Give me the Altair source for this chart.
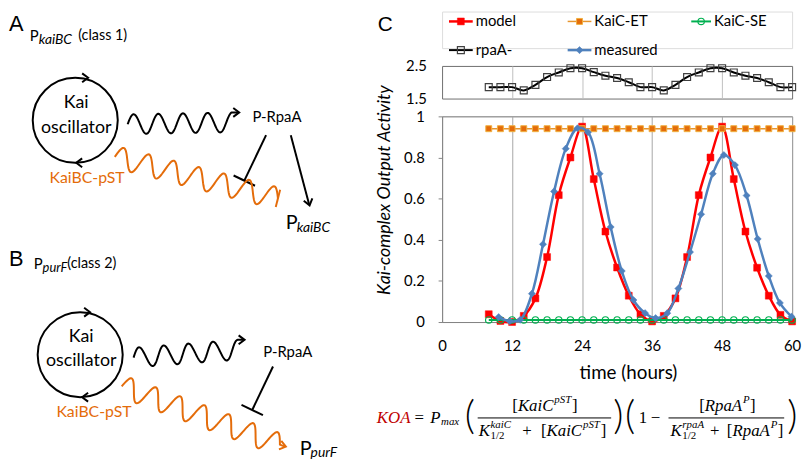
import altair as alt
import numpy as np
import pandas as pd

# ---------------- values ----------------
hours = [8, 10, 12, 14, 16, 18, 20, 22, 24, 26, 28, 30, 32, 34, 36, 38, 40, 42, 44, 46, 48, 50, 52, 54, 56, 58, 60]
model = [0.038, 0.005, 0.0, 0.03, 0.115, 0.316, 0.617, 0.80, 0.95, 0.695, 0.44, 0.265, 0.128, 0.038,
         0.003, 0.03, 0.115, 0.316, 0.617, 0.80, 0.95, 0.695, 0.44, 0.264, 0.128, 0.035, 0.003]
kaic_et = [0.94, 0.94, 0.94, 0.94, 0.94, 0.94, 0.94, 0.94, 0.94, 0.94, 0.94, 0.94, 0.94, 0.94,
           0.94, 0.94, 0.94, 0.94, 0.94, 0.94, 0.94, 0.94, 0.94, 0.94, 0.94, 0.94, 0.94]
kaic_se = [0.01, 0.01, 0.01, 0.01, 0.01, 0.01, 0.01, 0.01, 0.01, 0.01, 0.01, 0.01, 0.01, 0.01,
           0.01, 0.01, 0.01, 0.01, 0.01, 0.01, 0.01, 0.01, 0.01, 0.01, 0.01, 0.01, 0.01]
rpaa = [1.85, 1.85, 1.85, 1.75, 1.92, 2.16, 2.30, 2.43, 2.43, 2.31, 2.20, 2.13, 2.00, 1.85,
        1.85, 1.75, 1.92, 2.16, 2.30, 2.43, 2.43, 2.30, 2.20, 2.13, 2.00, 1.85, 1.85]
measured_hours = [9.7, 11.6, 13.4, 15.4, 17.3, 19.2, 21.2, 23.2, 25.0, 27.0, 28.9, 30.8, 32.8, 34.8,
                  36.6, 38.6, 40.5, 42.5, 44.4, 46.4, 48.3, 50.2, 52.2, 54.1, 56.0, 57.9, 59.9]
measured = [0.024, 0.004, 0.011, 0.138, 0.378, 0.635, 0.843, 0.942, 0.923, 0.721, 0.462, 0.248, 0.107, 0.043,
            0.019, 0.043, 0.163, 0.34, 0.524, 0.721, 0.812, 0.763, 0.615, 0.404, 0.224, 0.093, 0.026]
legend_names = ["model", "KaiC-ET", "KaiC-SE", "rpaA-", "measured"]
x_ticks = [0, 12, 24, 36, 48, 60]
grid_ticks = [12, 24, 36, 48]
y_ticks = [0, 0.2, 0.4, 0.6, 0.8, 1]
rpaa_ticks = [1.5, 2.5]

# ---------------- styles ----------------
STY = {
    "model":    dict(line="#FF0000", lw=2.5, shape="square", size=49, fill="#FF0000", stroke="#FF0000", sw=0.5),
    "KaiC-ET":  dict(line="#E8962E", lw=1.5, shape="square", size=36, fill="#E46C0A", stroke="#F0B040", sw=1),
    "KaiC-SE":  dict(line="#00B050", lw=2, shape="circle", size=42, fill="", stroke="#00B050", sw=1.2),
    "rpaA-":    dict(line="#000000", lw=2, shape="square", size=49, fill="", stroke="#404040", sw=1.2),
    "measured": dict(line="#4F81BD", lw=2.5, shape="diamond", size=52, fill="#4F81BD", stroke="#4F81BD", sw=0.5),
}
GRAY = "#868686"
BORDER = "#6E6E6E"
ORANGE = "#E46C0A"
FONT = "Lato"


def point_mark(st):
    kw = dict(shape=st["shape"], size=st["size"], stroke=st["stroke"], strokeWidth=st["sw"], opacity=1)
    if st["fill"]:
        kw.update(filled=True, fill=st["fill"])
    else:
        kw.update(filled=False)
    return kw


def series(df, name, xe, ye):
    st = STY[name]
    line = alt.Chart(df).mark_line(color=st["line"], strokeWidth=st["lw"],
                                   interpolate="catmull-rom").encode(x=xe, y=ye)
    pts = alt.Chart(df).mark_point(**point_mark(st)).encode(x=xe, y=ye)
    return [line, pts]


XSCALE = alt.Scale(domain=[0, 60], nice=False, zero=False)

# ---------------- main panel ----------------
x_main = alt.X("t:Q", scale=XSCALE, axis=alt.Axis(
    values=x_ticks, grid=True, gridColor="#A6A6A6", ticks=False, tickSize=0,
    domainColor=GRAY, labelFont=FONT, labelFontSize=15, labelColor="black", labelFlush=False,
    labelBaseline="middle", labelPadding=24,
    title="time (hours)", titleFont=FONT, titleFontSize=19, titleFontWeight="normal",
    titleColor="black", titleX=188, titleY=51, titleBaseline="middle"))
y_main = alt.Y("v:Q", scale=alt.Scale(domain=[0, 1], nice=False), axis=alt.Axis(
    values=y_ticks, format="~g", grid=False, ticks=True, tickSize=4, tickColor=GRAY,
    domainColor=GRAY, labelFont=FONT, labelFontSize=15, labelColor="black", labelAlign="right",
    labelPadding=14, title="Kai-complex Output Activity", titleFont=FONT, titleFontStyle="italic",
    titleFontSize=18, titleFontWeight="normal", titleColor="black", titleAngle=270,
    titleX=-58, titleY=74, titleBaseline="middle"))

df_model = pd.DataFrame({"t": hours, "v": model})
df_et = pd.DataFrame({"t": hours, "v": kaic_et})
df_se = pd.DataFrame({"t": hours, "v": kaic_se})
df_meas = pd.DataFrame({"t": measured_hours, "v": measured})
df_rpaa = pd.DataFrame({"t": hours, "v": rpaa})

main_layers = (series(df_model, "model", x_main, y_main)
               + series(df_et, "KaiC-ET", x_main, y_main)
               + series(df_se, "KaiC-SE", x_main, y_main)
               + series(df_meas, "measured", x_main, y_main))
main = alt.layer(*main_layers).properties(
    width=354, height=208, view=alt.ViewBackground(stroke=BORDER, strokeWidth=1))

# ---------------- rpaA- panel ----------------
x_r = alt.X("t:Q", scale=XSCALE, axis=alt.Axis(values=grid_ticks, grid=True, gridColor="#BFBFBF",
                                               labels=False, ticks=False, domain=False, title=""))
y_r = alt.Y("v:Q", scale=alt.Scale(domain=[1.5, 2.5], nice=False, zero=False), axis=alt.Axis(
    values=rpaa_ticks, grid=False, ticks=False, domain=False, labelFont=FONT, labelFontSize=15,
    labelColor="black", labelAlign="right", labelPadding=16, title=""))
rpaa_panel = alt.layer(*series(df_rpaa, "rpaA-", x_r, y_r)).properties(
    width=354, height=33, view=alt.ViewBackground(stroke=BORDER, strokeWidth=1))

# ---------------- annotation panel: page-pixel coordinates ----------------
# The panel covers page x 446..800, y 8..45; its scales are 1:1 with page pixels,
# so the legend, the formula and the schematic diagrams are placed in page coordinates.
PX = alt.Scale(domain=[446, 800], nice=False, zero=False)
PY = alt.Scale(domain=[8, 45], nice=False, zero=False, reverse=True)


def XE(f):
    return alt.X(f, scale=PX, axis=None)


def YE(f):
    return alt.Y(f, scale=PY, axis=None)


ann = []

# legend
leg_x0 = [453, 573, 698, 453, 573]
leg_x1 = [477, 597, 718, 477, 597]
leg_y = [18, 18, 18, 47, 47]
for i, name in enumerate(legend_names):
    st = STY[name]
    d = pd.DataFrame({"x0": [leg_x0[i]], "x1": [leg_x1[i]], "y": [leg_y[i]],
                      "xm": [(leg_x0[i] + leg_x1[i]) / 2], "xt": [leg_x1[i] + 3], "name": [name]})
    ann.append(alt.Chart(d).mark_rule(color=st["line"], strokeWidth=st["lw"]).encode(
        x=XE("x0:Q"), x2="x1:Q", y=YE("y:Q")))
    ann.append(alt.Chart(d).mark_point(**point_mark(st)).encode(x=XE("xm:Q"), y=YE("y:Q")))
    ann.append(alt.Chart(d).mark_text(align="left", baseline="middle", font=FONT, fontSize=15,
                                      color="black").encode(x=XE("xt:Q"), y=YE("y:Q"), text="name:N"))

# formula
formula = [
    ("KOA", 380, 419, 17, "red"), ("=", 418, 419, 17, "mr"), ("P", 434, 419, 17, "mi"),
    ("max", 445, 423, 11, "mi"), ("(", 469, 418, 40, "paren"),
    ("[", 517, 407, 17, "mr"), ("KaiC", 522.7, 407, 17, "mi"), ("pST", 559.5, 401, 11, "mi"), ("]", 577.5, 407, 17, "mr"),
    ("K", 483, 432, 17, "mi"), ("kaiC", 495, 426, 11, "mi"), ("1/2", 495, 437, 11, "mr"), ("+", 527, 432, 17, "mr"),
    ("[", 546, 432, 17, "mr"), ("KaiC", 551.7, 432, 17, "mi"), ("pST", 588.5, 426, 11, "mi"), ("]", 606.5, 432, 17, "mr"),
    (")", 619, 418, 40, "paren"), ("(", 631, 418, 40, "paren"), ("1", 645, 419, 17, "mr"), ("\u2212", 657, 419, 17, "mr"),
    ("[", 706, 407, 17, "mr"), ("RpaA", 711.7, 407, 17, "mi"), ("P", 750.3, 401, 11, "mi"), ("]", 757.5, 407, 17, "mr"),
    ("K", 677, 432, 17, "mi"), ("rpaA", 689, 426, 11, "mi"), ("1/2", 689, 437, 11, "mr"), ("+", 717, 432, 17, "mr"),
    ("[", 734, 432, 17, "mr"), ("RpaA", 739.7, 432, 17, "mi"), ("P", 778.3, 426, 11, "mi"), ("]", 785.5, 432, 17, "mr"),
    (")", 795, 418, 40, "paren"),
]
fdf = pd.DataFrame(formula, columns=["s", "x", "y", "size", "kind"])
for kind, font, style, weight, color in [("mr", "Liberation Serif", "normal", "normal", "black"),
                                         ("mi", "Liberation Serif", "italic", "normal", "black"),
                                         ("red", "Liberation Serif", "italic", "normal", "#C00000"),
                                         ("paren", "Lato", "normal", 300, "black")]:
    ann.append(alt.Chart(fdf[fdf.kind == kind]).mark_text(
        align="left", baseline="middle", font=font, fontStyle=style, fontWeight=weight, color=color).encode(
        x=XE("x:Q"), y=YE("y:Q"), size=alt.Size("size:Q", scale=None), text="s:N"))
bars = pd.DataFrame({"x0": [482, 675], "x1": [617, 792], "y": [419, 419]})
ann.append(alt.Chart(bars).mark_rule(color="black", strokeWidth=1).encode(
    x=XE("x0:Q"), x2="x1:Q", y=YE("y:Q")))


# schematic diagrams A / B
def wave(p0, p1, periods, amp, n=220):
    p0 = np.array(p0, float)
    p1 = np.array(p1, float)
    d = p1 - p0
    u = d / np.hypot(*d)
    nrm = np.array([u[1], -u[0]])
    t = np.linspace(0, 1, n)
    pts = p0[None, :] + t[:, None] * d[None, :] + (amp * np.sin(2 * np.pi * periods * t))[:, None] * nrm[None, :]
    return [tuple(p) for p in pts]


def tbar(p0, p1, half):
    p0 = np.array(p0, float)
    p1 = np.array(p1, float)
    d = p1 - p0
    u = d / np.hypot(*d)
    perp = np.array([-u[1], u[0]])
    return [tuple(p1 - half * perp), tuple(p1 + half * perp)]


black_paths = []
wa = wave((128, 122), (234, 120), 4.25, 10)
black_paths.append(wa + [(wa[-1][0] + 6, wa[-1][1])])
wb = wave((134, 358), (240, 350), 4.25, 10)
black_paths.append(wb + [(wb[-1][0] + 6, wb[-1][1])])
black_paths.append([(268, 133), (246, 179)])
black_paths.append(tbar((268, 133), (246, 179), 12))
black_paths.append([(293, 133), (311.5, 203)])
black_paths.append([(275, 367), (254, 411)])
black_paths.append(tbar((275, 367), (254, 411), 12))

orange_paths = []
woa = wave((115, 155), (280, 197), 6.5, 11)
orange_paths.append(woa)
orange_paths.append(tbar((115, 155), (280, 197), 9))
wob = wave((122, 387), (282, 446), 6.5, 11)
orange_paths.append(wob + [(287, 448)])


def paths_df(paths):
    rows = []
    for k, p in enumerate(paths):
        for j, (x, y) in enumerate(p):
            rows.append({"seg": k, "o": j, "x": x, "y": y})
    return pd.DataFrame(rows)


for paths, color in [(black_paths, "black"), (orange_paths, ORANGE)]:
    ann.append(alt.Chart(paths_df(paths)).mark_line(color=color, strokeWidth=2).encode(
        x=XE("x:Q"), y=YE("y:Q"), detail="seg:N", order="o:Q"))

circles = pd.DataFrame({"x": [75, 80], "y": [118, 355]})
ann.append(alt.Chart(circles).mark_point(shape="circle", size=7396, filled=False, color="black",
                                         strokeWidth=2, opacity=1).encode(x=XE("x:Q"), y=YE("y:Q")))

CHEV = "M -1 -0.75 L 0 0 L -1 0.75"
chev_black = pd.DataFrame({
    "x": [wa[-1][0] + 7, 312, 88, 76, wb[-1][0] + 7, 90, 82],
    "y": [wa[-1][1], 204, 75, 161, wb[-1][1], 312, 398],
    "a": [0, 75, 0, 180, 0, 0, 180]})
chev_orange = pd.DataFrame({"x": [288], "y": [448], "a": [15]})
for df, color in [(chev_black, "black"), (chev_orange, ORANGE)]:
    ann.append(alt.Chart(df).mark_point(shape=CHEV, size=144, filled=False, color=color, strokeWidth=2,
                                        opacity=1).encode(x=XE("x:Q"), y=YE("y:Q"),
                                                          angle=alt.Angle("a:Q", scale=None)))

diag_text = [
    # text, x, y, size, color, kind
    ("Kai", 76, 101, 18, "black", "c"), ("oscillator", 76, 126, 18, "black", "c"),
    ("P-RpaA", 279, 115, 15, "black", "c"), ("KaiBC-pST", 87, 176, 16, ORANGE, "c"),
    ("Kai", 81, 337, 18, "black", "c"), ("oscillator", 81, 361, 18, "black", "c"),
    ("P-RpaA", 290, 352, 15, "black", "c"), ("KaiBC-pST", 94, 413, 16, ORANGE, "c"),
    ("P", 29, 33, 15, "black", "l"), ("(class 1)", 78, 33, 14.5, "black", "l"),
    ("P", 288, 222, 20, "black", "l"),
    ("P", 33, 263, 15, "black", "l"), ("(class 2)", 67, 263, 14.5, "black", "l"),
    ("P", 302, 450, 20, "black", "l"),
    ("kaiBC", 38, 37, 14, "black", "li"), ("kaiBC", 299, 227, 14, "black", "li"),
    ("purF", 42, 267, 13, "black", "li"), ("purF", 313, 455, 14, "black", "li"),
    ("A", 8, 21, 22, "black", "h"), ("B", 8, 258, 22, "black", "h"), ("C", 381, 22, 21, "black", "h"),
]
tdf = pd.DataFrame(diag_text, columns=["s", "x", "y", "size", "color", "kind"])
for kind, align, font, style in [("c", "center", FONT, "normal"), ("l", "left", FONT, "normal"),
                                 ("li", "left", FONT, "italic"), ("h", "left", "Liberation Sans", "normal")]:
    ann.append(alt.Chart(tdf[tdf.kind == kind]).mark_text(
        align=align, baseline="middle", font=font, fontStyle=style).encode(
        x=XE("x:Q"), y=YE("y:Q"), size=alt.Size("size:Q", scale=None),
        color=alt.Color("color:N", scale=None), text="s:N"))

annotations = alt.layer(*ann).properties(width=354, height=37)

# ---------------- assemble ----------------
chart = alt.vconcat(annotations, rpaa_panel, main, spacing=18, bounds="flush").properties(
    padding=0).configure_view(stroke="transparent").configure(font=FONT)

chart.save("out.html", embed_options={"renderer": "svg", "actions": False})
